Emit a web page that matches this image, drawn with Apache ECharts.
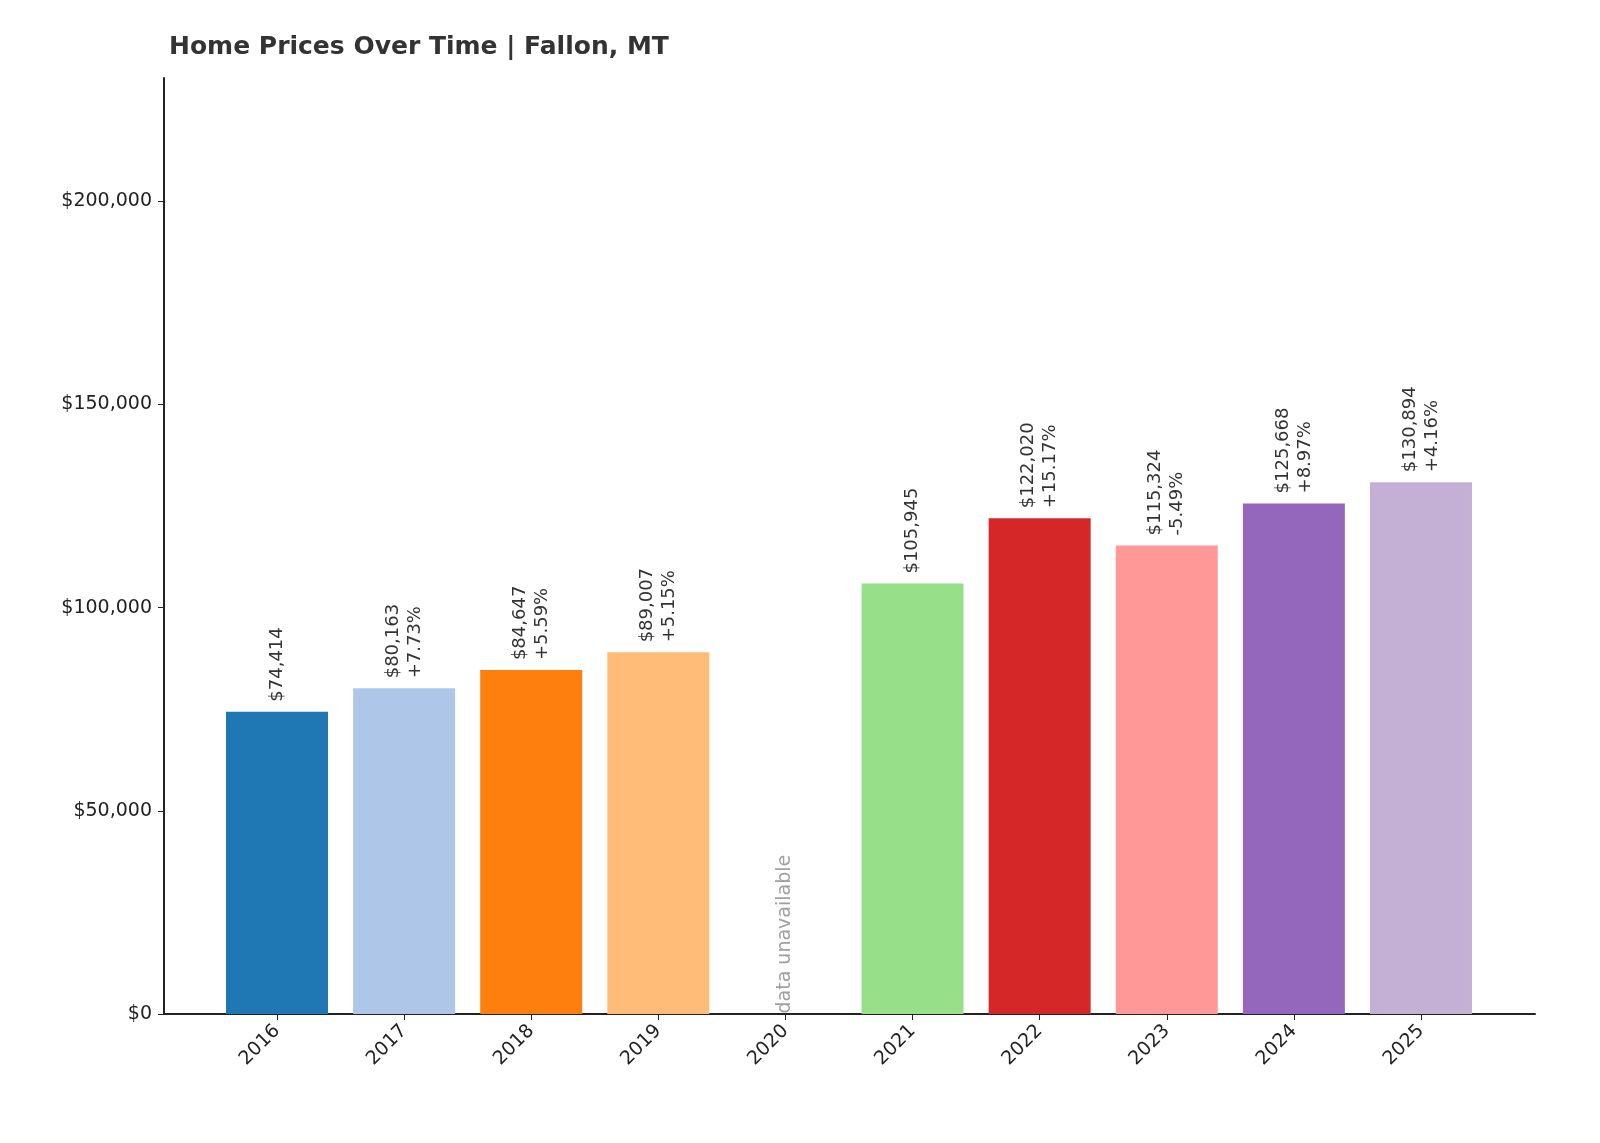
<!DOCTYPE html>
<html><head><meta charset="utf-8">
<script src="https://cdn.jsdelivr.net/npm/echarts@6/dist/echarts.min.js"></script>
<style>html,body{margin:0;padding:0;background:#fff}#c{width:1600px;height:1143px}</style>
</head><body><div id="c"></div>
<script>
var years = ['2016','2017','2018','2019','2020','2021','2022','2023','2024','2025'];
var prices = [74414, 80163, 84647, 89007, null, 105945, 122020, 115324, 125668, 130894];
var changes = ['', '+7.73%', '+5.59%', '+5.15%', '', '', '+15.17%', '-5.49%', '+8.97%', '+4.16%'];
var colors = ['#1f77b4','#aec7e8','#ff7f0e','#ffbb78','#cccccc','#98df8a','#d62728','#ff9896','#9467bd','#c5b0d5'];
var yTicks = [0, 50000, 100000, 150000, 200000];

function money(v){ return '$' + v.toLocaleString('en-US'); }

var barData = [];
var missing = [];
for(var i = 0; i < years.length; ++i){
	if(prices[i] == null){ missing.push([i, 0]); continue; }
	barData.push({ value: [i, prices[i]], itemStyle: { color: colors[i] }, chg: changes[i] });
}
var idx = years.map(function(y, i){ return i; });

var chart = echarts.init(document.getElementById('c'));
chart.setOption({
	animation: false,
	textStyle: { fontFamily: 'DejaVu Sans' },
	title: { text: 'Home Prices Over Time | Fallon, MT', left: 164, top: 30,
		textStyle: { fontSize: 25, fontWeight: 'bold', color: '#333', fontFamily: 'DejaVu Sans' } },
	grid: { left: 164, right: 65, top: 78, bottom: 129 },
	xAxis: {
		type: 'value', min: -0.889, max: 9.897,
		splitLine: { show: false },
		axisLine: { onZero: false, lineStyle: { color: '#222', width: 2 } },
		axisTick: { customValues: idx, length: 6, lineStyle: { color: '#222' } },
		axisLabel: { customValues: idx, rotate: 45, fontSize: 19, color: '#222', margin: 14,
			formatter: function(v){ return years[Math.round(v)]; } }
	},
	yAxis: {
		type: 'value', min: 0, max: 230373,
		splitLine: { show: false },
		axisLine: { show: true, onZero: false, lineStyle: { color: '#222', width: 2 } },
		axisTick: { show: true, customValues: yTicks, length: 6, lineStyle: { color: '#222' } },
		axisLabel: { customValues: yTicks, fontSize: 19, color: '#222', margin: 12,
			formatter: function(v){ return money(v); } }
	},
	series: [{
		type: 'bar', barWidth: 102, data: barData,
		label: { show: true, position: 'top', rotate: 90, align: 'left', verticalAlign: 'middle',
			distance: 10, fontSize: 18, color: '#333', lineHeight: 22,
			formatter: function(p){ return money(p.value[1]) + (p.data.chg ? '\n' + p.data.chg : ''); } }
	}, {
		type: 'scatter', symbolSize: 1, itemStyle: { color: 'rgba(0,0,0,0)' }, data: missing,
		label: { show: true, position: 'top', rotate: 90, align: 'left', verticalAlign: 'middle',
			distance: 0, fontSize: 19, color: '#888', formatter: 'data unavailable' }
	}]
});
</script></body></html>
